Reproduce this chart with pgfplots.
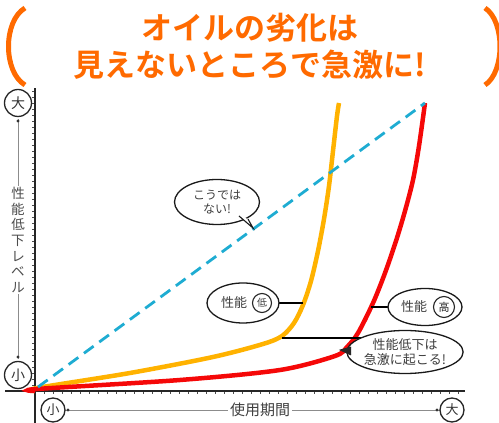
\documentclass[border=0pt]{standalone}
\usepackage{fontspec}
\setmainfont{Noto Sans CJK JP}[BoldFont={Noto Sans CJK JP Bold}]
\usepackage{pgfplots}
\pgfplotsset{compat=1.18}
\usetikzlibrary{shapes.geometric,arrows.meta}
\definecolor{titleor}{RGB}{255,106,0}
\definecolor{curveor}{RGB}{255,178,0}
\definecolor{curvered}{RGB}{245,8,8}
\definecolor{curveblue}{RGB}{30,172,210}
\begin{document}
\begin{tikzpicture}
\begin{axis}[
  x=1pt, y=1pt,
  xmin=-30, xmax=430, ymin=-32, ymax=303,
  axis lines=middle,
  axis line style={-, line width=1.8pt, black!85},
  clip=false,
  xtick={9,18,...,423}, ytick={6,12,...,300},
  xticklabels={}, yticklabels={},
  tick align=outside,
  major tick length=3pt,
  tick style={black!70, line width=0.6pt},
]
% orange = low performance oil
\addplot[smooth, tension=0.5, color=curveor, line width=4.5pt] coordinates {
(0,0) (2,3) (95,18) (178,34) (228,47) (247,55) (259,68) (268,86) (276,110) (283,140) (289,172) (294,205) (298,240) (302,275) (304,288)};
% red = high performance oil
\addplot[smooth, tension=0.5, color=curvered, line width=4.5pt] coordinates {
(0,0) (2,2) (145,11) (245,21) (300,35) (312,44) (323,58) (338,88) (350,118) (361,150) (370,180) (378,211) (384,245) (390,288)};
% linear (not like this)
\addplot[color=curveblue, line width=2.8pt, dash pattern=on 12pt off 7pt] coordinates {(3,4) (390,288)};

% title
\node[titleor, font=\fontsize{31}{37}\selectfont\bfseries, align=center] at (axis cs:215,345) {オイルの劣化は\\見えないところで急激に!};
\draw[titleor, line width=5pt] (axis cs:-10,383) .. controls (axis cs:-32,370) and (axis cs:-32,319) .. (axis cs:-10,306);
\draw[titleor, line width=5pt] (axis cs:450,383) .. controls (axis cs:470,370) and (axis cs:470,319) .. (axis cs:450,306);

% y axis label
\draw[black!45, line width=0.6pt] (axis cs:-17,272) -- (axis cs:-17,32);
\fill[black!80] (axis cs:-17,270) circle (1.6pt);
\fill[black!80] (axis cs:-17,34) circle (1.6pt);
\node[circle, draw=black!85, line width=1.3pt, minimum size=27pt, inner sep=0pt, fill=white, font=\fontsize{14}{14}\selectfont, text=black!80] at (axis cs:-17,288) {大};
\node[circle, draw=black!85, line width=1.3pt, minimum size=27pt, inner sep=0pt, fill=white, font=\fontsize{14}{14}\selectfont, text=black!80] at (axis cs:-17,16) {小};
\node[fill=white, inner sep=1pt, align=center, text=black!70, font=\fontsize{13.5}{15.7}\selectfont] at (axis cs:-17,151) {性\\能\\低\\下\\レ\\ベ\\ル};

% x axis label
\draw[black!45, line width=0.6pt] (axis cs:30,-19) -- (axis cs:405,-19);
\fill[black!80] (axis cs:33,-19) circle (1.6pt);
\fill[black!80] (axis cs:402,-19) circle (1.6pt);
\node[circle, draw=black!85, line width=1.3pt, minimum size=24pt, inner sep=0pt, fill=white, font=\fontsize{13}{13}\selectfont, text=black!80] at (axis cs:18,-19) {小};
\node[circle, draw=black!85, line width=1.3pt, minimum size=24pt, inner sep=0pt, fill=white, font=\fontsize{13}{13}\selectfont, text=black!80] at (axis cs:417,-19) {大};
\node[fill=white, inner sep=2pt, text=black!75, font=\fontsize{15}{15}\selectfont] at (axis cs:225,-19) {使用期間};

% callout 1
\node[ellipse, draw=black!90, line width=1.3pt, fill=white, minimum width=85pt, minimum height=45pt, inner sep=0pt, align=center, text=black!75, font=\fontsize{12}{14}\selectfont] at (axis cs:182,189) {こうでは\\ない!};
\filldraw[fill=white, draw=black!90, line width=1.1pt] (axis cs:204,175) -- (axis cs:218,163) -- (axis cs:213,172);

% callout 2 (orange)
\draw[black, line width=1.3pt] (axis cs:243,88) -- (axis cs:268,88);
\node[ellipse, draw=black!90, line width=1.3pt, fill=white, minimum width=72pt, minimum height=40pt] at (axis cs:208,88) {};
\node[text=black!75, font=\fontsize{13}{13}\selectfont] at (axis cs:199,88) {性能};
\node[circle, draw=black!85, line width=1.1pt, minimum size=19pt, inner sep=0pt, text=black!75, font=\fontsize{10}{10}\selectfont] at (axis cs:227,88) {低};

% callout 3 (red)
\draw[black, line width=1.3pt] (axis cs:336,84) -- (axis cs:356,84);
\node[ellipse, draw=black!90, line width=1.3pt, fill=white, minimum width=74pt, minimum height=37pt] at (axis cs:390,84) {};
\node[text=black!75, font=\fontsize{13}{13}\selectfont] at (axis cs:379,84) {性能};
\node[circle, draw=black!85, line width=1.1pt, minimum size=21pt, inner sep=0pt, text=black!85, font=\fontsize{11}{11}\selectfont] at (axis cs:409,84) {高};

% callout 4
\draw[black, line width=1.6pt] (axis cs:247,53) -- (axis cs:326,53);
\node[ellipse, draw=black!90, line width=1.3pt, fill=white, minimum width=116pt, minimum height=43pt, inner sep=0pt, align=center, text=black!75, font=\fontsize{13}{15}\selectfont] at (axis cs:370,39) {性能低下は\\急激に起こる!};
\filldraw[fill=black!85, draw=black!85, line width=0.8pt] (axis cs:316,44) -- (axis cs:305,41) -- (axis cs:316,36);

\coordinate (bbA) at (axis cs:-35,-32);
\coordinate (bbB) at (axis cs:464,391);
\end{axis}
\pgfresetboundingbox
\useasboundingbox (bbA) rectangle (bbB);
\end{tikzpicture}
\end{document}
